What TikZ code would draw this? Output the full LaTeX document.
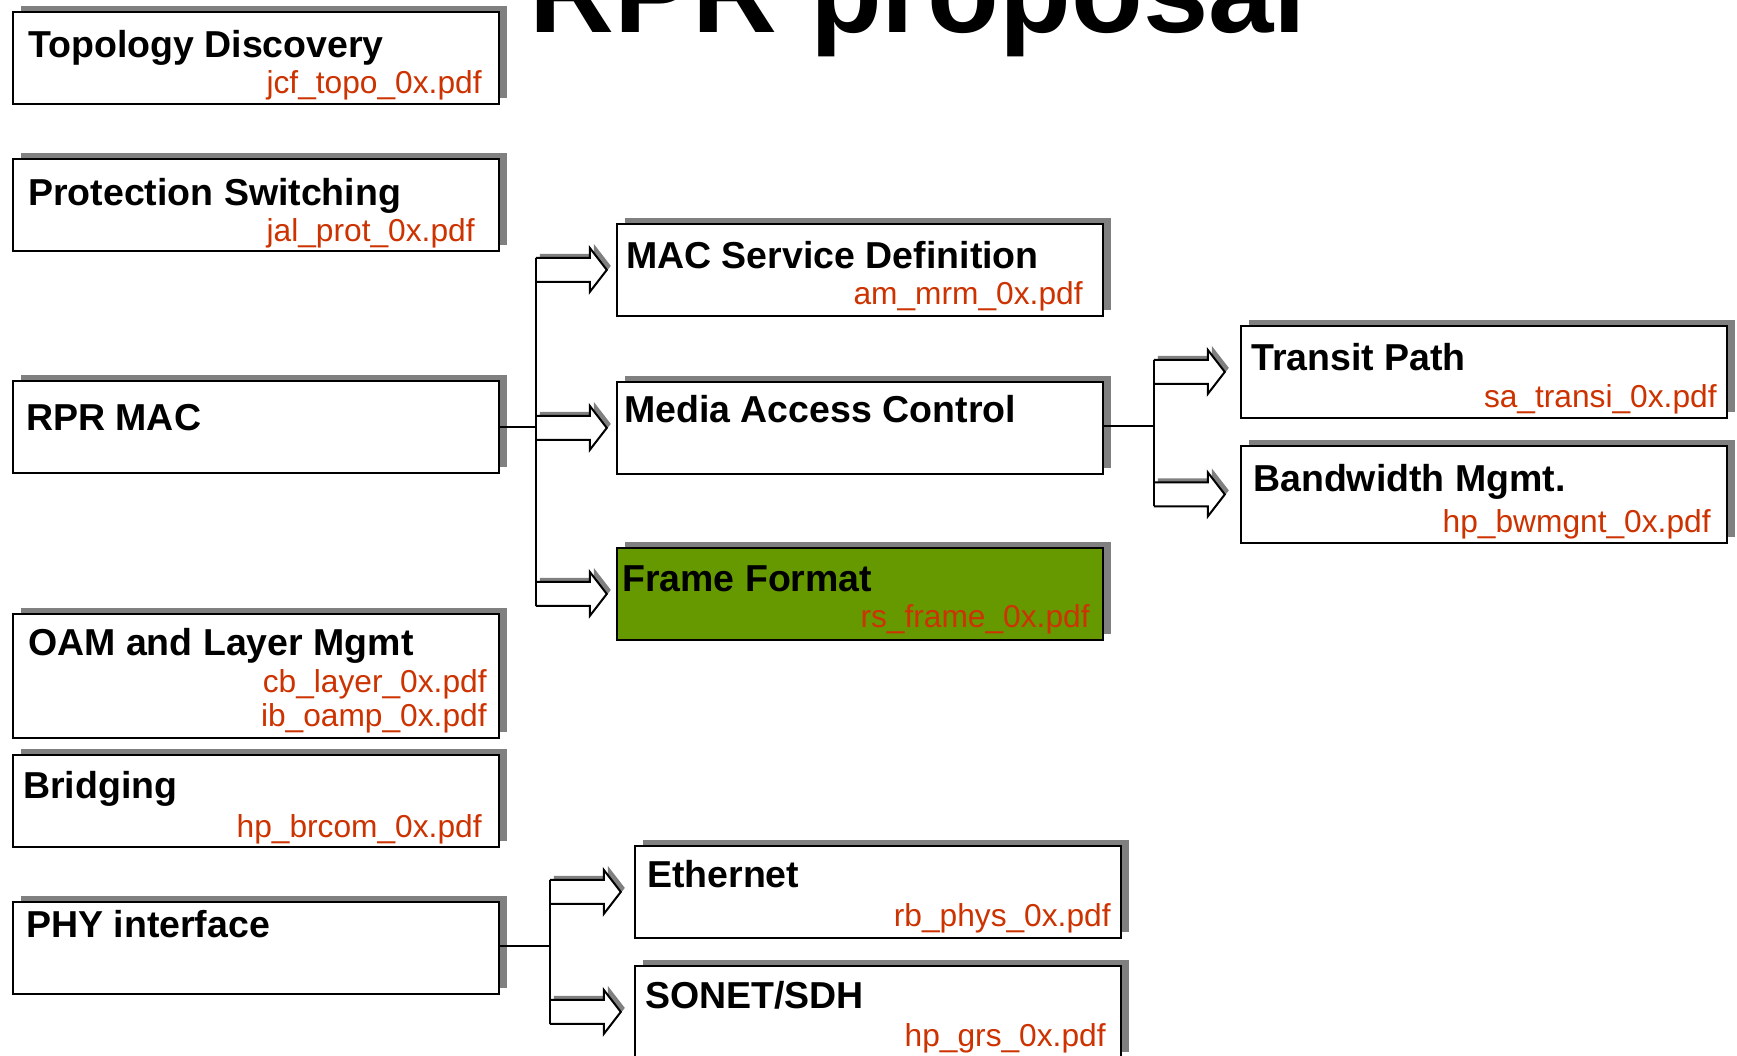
\documentclass[tikz,border=0pt]{standalone}
\usepackage{fontspec}
\setmainfont{Liberation Sans}
\usetikzlibrary{positioning, calc, shadows}
\definecolor{shadowgray}{RGB}{128,128,128}
\definecolor{fileref}{RGB}{204,51,0}
\definecolor{framegreen}{RGB}{102,153,0}
\tikzset{
  feed arrow/.pic={
    \fill[shadowgray] (4,-16) -- (58,-16) -- (58,-26) -- (75,-4) -- (58,18) -- (58,8) -- (4,8) -- cycle;
    \fill[white] (0,-12) -- (54,-12) -- (54,-22) -- (71,0) -- (54,22) -- (54,12) -- (0,12) -- cycle;
    \draw[line width=2pt, line join=miter]
      (0,-12) -- (54,-12) -- (54,-22) -- (71,0) -- (54,22) -- (54,12) -- (0,12);
  },
  topic/.style={draw, line width=1.8pt, fill=white, inner sep=0pt, anchor=north west,
    minimum width=486pt, minimum height=92pt,
    drop shadow={shadow xshift=8pt, shadow yshift=6pt, fill=shadowgray, opacity=1}},
  heading/.style={anchor=base west, inner sep=0pt, font=\fontsize{37.5}{40}\selectfont\bfseries},
  ref/.style={anchor=base east, inner sep=0pt, text=fileref, font=\fontsize{31.7}{34}\selectfont},
  wire/.style={line width=1.6pt},
}

\begin{document}
\begin{tikzpicture}[x=1pt, y=-1pt]
	\useasboundingbox (0,0) rectangle (1737,1055);

	\node[anchor=base, inner sep=0pt, font=\fontsize{117.5}{120}\selectfont\bfseries] (title) at (918,32) {RPR proposal};

	% left column
	\node[topic] (topo) at (12,11) {};
	\node[heading] (topo-h) at ($(topo.north west)+(16,46)$) {Topology Discovery};
	\node[ref] (topo-f) at ($(topo.north east)+(-18,82)$) {jcf\_topo\_0x.pdf};

	\node[topic] (prot) at (12,158) {};
	\node[heading] (prot-h) at ($(prot.north west)+(16,47)$) {Protection Switching};
	\node[ref] (prot-f) at ($(prot.north east)+(-25,83)$) {jal\_prot\_0x.pdf};

	\node[topic] (rprmac) at (12,380) {};
	\node[heading] (rprmac-h) at ($(rprmac.north west)+(14,50)$) {RPR MAC};

	\node[topic, minimum height=124pt] (oam) at (12,613) {};
	\node[heading] (oam-h) at ($(oam.north west)+(16,42)$) {OAM and Layer Mgmt};
	\node[ref] (oam-f1) at ($(oam.north east)+(-13,79)$) {cb\_layer\_0x.pdf};
	\node[ref] (oam-f2) at ($(oam.north east)+(-13,113)$) {ib\_oamp\_0x.pdf};

	\node[topic] (bridging) at (12,754) {};
	\node[heading] (bridging-h) at ($(bridging.north west)+(11,44)$) {Bridging};
	\node[ref] (bridging-f) at ($(bridging.north east)+(-18,83)$) {hp\_brcom\_0x.pdf};

	\node[topic] (phy) at (12,901) {};
	\node[heading] (phy-h) at ($(phy.north west)+(14,36)$) {PHY interface};

	% MAC column
	\node[topic] (macsvc) at (616,223) {};
	\node[heading] (macsvc-h) at ($(macsvc.north west)+(10,45)$) {MAC Service Definition};
	\node[ref] (macsvc-f) at ($(macsvc.north east)+(-21,81)$) {am\_mrm\_0x.pdf};

	\node[topic] (mac) at (616,381) {};
	\node[heading] (mac-h) at ($(mac.north west)+(8,41)$) {Media Access Control};

	\node[topic, fill=framegreen] (frame) at (616,547) {};
	\node[heading] (frame-h) at ($(frame.north west)+(6,44)$) {Frame Format};
	\node[ref] (frame-f) at ($(frame.north east)+(-14,80)$) {rs\_frame\_0x.pdf};

	% MAC parts
	\node[topic] (transit) at (1240,325) {};
	\node[heading] (transit-h) at ($(transit.north west)+(11,45)$) {Transit Path};
	\node[ref] (transit-f) at ($(transit.north east)+(-11,82)$) {sa\_transi\_0x.pdf};

	\node[topic, minimum height=97pt] (bw) at (1240,445) {};
	\node[heading] (bw-h) at ($(bw.north west)+(13,46)$) {Bandwidth Mgmt.};
	\node[ref] (bw-f) at ($(bw.north east)+(-17,87)$) {hp\_bwmgnt\_0x.pdf};

	% PHY column
	\node[topic] (ether) at (634,845) {};
	\node[heading] (ether-h) at ($(ether.north west)+(13,42)$) {Ethernet};
	\node[ref] (ether-f) at ($(ether.north east)+(-11,81)$) {rb\_phys\_0x.pdf};

	\node[topic] (sonet) at (634,965) {};
	\node[heading] (sonet-h) at ($(sonet.north west)+(11,43)$) {SONET/SDH};
	\node[ref] (sonet-f) at ($(sonet.north east)+(-16,81)$) {hp\_grs\_0x.pdf};

	% trunks
	\coordinate (t1) at ($(rprmac.east)+(36,0)$);
	\coordinate (t2) at ($(mac.east)+(50,-2)$);
	\coordinate (t3) at ($(phy.east)+(50,-2)$);

	\foreach \dst in {macsvc, mac, frame} \pic at (t1 |- \dst.west) {feed arrow};
	\foreach \dst in {transit, bw} \pic at (t2 |- \dst.west) {feed arrow};
	\foreach \dst in {ether, sonet} \pic at (t3 |- \dst.west) {feed arrow};

	\draw[wire] (rprmac.east) -- (t1);
	\draw[wire] ($(t1 |- macsvc.west)+(0,-12)$) -- ($(t1 |- frame.west)+(0,12)$);
	\draw[wire] (mac.east |- t2) -- (t2);
	\draw[wire] ($(t2 |- transit.west)+(0,-12)$) -- ($(t2 |- bw.west)+(0,12)$);
	\draw[wire] (phy.east |- t3) -- (t3);
	\draw[wire] ($(t3 |- ether.west)+(0,-12)$) -- ($(t3 |- sonet.west)+(0,12)$);
\end{tikzpicture}
\end{document}
